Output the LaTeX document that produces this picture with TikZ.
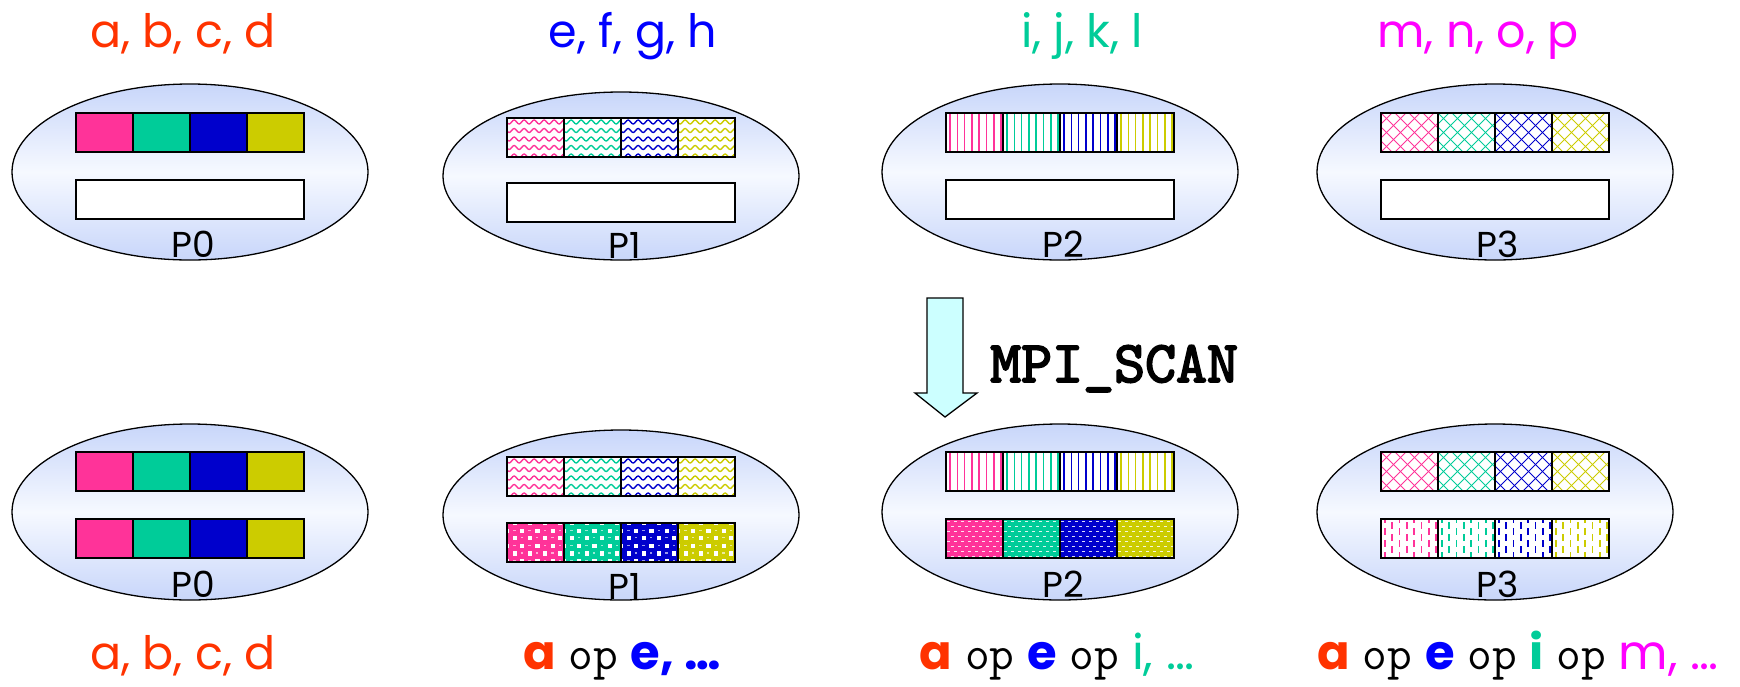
\documentclass[tikz,border=0pt]{standalone}
\usepackage{fontspec}
\setmainfont{Poppins}
\newfontfamily\scanfont{lmmono10-regular.otf}[FakeBold=3]
\usetikzlibrary{shapes.geometric,decorations.pathmorphing}
\definecolor{cpink}{HTML}{FF3399}
\definecolor{cgreen}{HTML}{00CC99}
\definecolor{cblue}{HTML}{0000CC}
\definecolor{cyellow}{HTML}{CCCC00}
\definecolor{tred}{HTML}{FF3300}
\definecolor{tblue}{HTML}{0000FF}
\definecolor{tgreen}{HTML}{00CC99}
\definecolor{tmag}{HTML}{FF00FF}
\definecolor{elledge}{RGB}{200,214,250}
\definecolor{ellmid}{RGB}{246,249,255}
\definecolor{arrowfill}{HTML}{CCFFFF}
\tikzset{
  proc/.style={ellipse, draw=black, line width=1.3pt, minimum width=356pt, minimum height=176pt,
    inner sep=0pt, top color=elledge, bottom color=elledge, middle color=ellmid},
  plabel/.style={anchor=base, font=\fontsize{36}{36}\selectfont, inner sep=0pt},
  toplabel/.style={anchor=base, font=\fontsize{46}{46}\selectfont, inner sep=0pt},
  botlabel/.style={anchor=base, font=\fontsize{48}{48}\selectfont, inner sep=0pt},
  barline/.style={draw=black, line width=2pt},
}
\newcommand\opw{{\ttfamily\fontsize{48}{48}\selectfont op}}
% pattern macros: #1 x, #2 y, #3 colour
\newcommand\patsolid[3]{\fill[#3] (#1,#2) rectangle ++(57,39);}
\newcommand\patwave[3]{\foreach \rr in {0,...,4}{\draw[#3, line width=1.4pt, decorate,
  decoration={snake, amplitude=2pt, segment length=10pt}] (#1-6,#2+4+\rr*8.5) -- ++(72,0);}}
\newcommand\patvline[3]{\foreach \kk in {0,...,7}{\draw[#3, line width=1.6pt] (#1+4+\kk*7.3,#2) -- ++(0,39);}}
\newcommand\patcross[3]{\foreach \kk in {-4,...,5}{\draw[#3, line width=1pt] (#1+\kk*14,#2) -- ++(39,39);
  \draw[#3, line width=1pt] (#1+\kk*14,#2+39) -- ++(39,-39);}}
\newcommand\patsphere[3]{\fill[#3] (#1,#2) rectangle ++(57,39);
  \foreach \ii in {0,...,7}{\foreach \jj in {0,...,5}{
    \pgfmathtruncatemacro\parity{mod(\ii+\jj,2)}
    \ifnum\parity=1 \fill[white] (#1+\ii*7.6-2,#2+\jj*7.6-2) rectangle ++(4.2,4.2);
    \else \fill[white!60!#3] (#1+\ii*7.6-1.5,#2+\jj*7.6-1) rectangle ++(2.5,1.2);\fi}}}
\newcommand\patdash[3]{\fill[#3] (#1,#2) rectangle ++(57,39);
  \foreach \jj in {0,...,7}{\foreach \ii in {0,...,8}{
    \pgfmathsetmacro\off{mod(\jj,2)*3.5}
    \fill[white!85!#3] (#1+\ii*7+\off+1,#2+2+\jj*5) rectangle ++(3.2,1.4);}}}
\newcommand\patvdash[3]{\foreach \ii in {0,...,7}{\foreach \jj in {0,...,3}{
    \pgfmathsetmacro\off{mod(\ii,2)*6}
    \fill[#3] (#1+3+\ii*7.3,#2-3+\jj*12+\off) rectangle ++(1.8,6.5);}}}
\newcommand\cellbar[3]{%
  \foreach \cb/\cc in {0/cpink,1/cgreen,2/cblue,3/cyellow}{%
    \begin{scope}
      \clip (#1+\cb*57,#2) rectangle ++(57,39);
      \fill[white] (#1+\cb*57,#2) rectangle ++(57,39);
      #3{#1+\cb*57}{#2}{\cc}
    \end{scope}
    \draw[barline] (#1+\cb*57,#2) rectangle ++(57,39);}}
\newcommand\emptybar[2]{\draw[barline, fill=white] (#1,#2) rectangle ++(228,39);}
\begin{document}
\begin{tikzpicture}[x=1pt,y=-1pt]
\useasboundingbox (0,0) rectangle (1740,686);
% top row
\node[proc] (e0t) at (190,172) {};
\node[proc, minimum height=168pt] (e1t) at (621,176) {};
\node[proc] (e2t) at (1060,172) {};
\node[proc] (e3t) at (1495,172) {};
\cellbar{76}{113}{\patsolid}
\cellbar{507}{118}{\patwave}
\cellbar{946}{113}{\patvline}
\cellbar{1381}{113}{\patcross}
\emptybar{76}{180}
\emptybar{507}{183}
\emptybar{946}{180}
\emptybar{1381}{180}
\node[plabel] (p0t) at (193,257) {P0};
\node[plabel] (p1t) at (625,258) {P1};
\node[plabel] (p2t) at (1063,257) {P2};
\node[plabel] (p3t) at (1498,257) {P3};
\node[toplabel, text=tred] (t0) at (183,47) {a, b, c, d};
\node[toplabel, text=tblue] (t1) at (633,47) {e, f, g, h};
\node[toplabel, text=tgreen] (t2) at (1082,47) {i, j, k, l};
\node[toplabel, text=tmag] (t3) at (1478,47) {m, n, o, p};
% arrow
\draw[fill=arrowfill, line width=1.3pt, line join=miter] (927,298) -- (963,298) -- (963,393) -- (977,393)
  -- (945,417) -- (915,393) -- (927,393) -- cycle;
\node[anchor=base west, inner sep=0pt, font=\scanfont\fontsize{59}{59}\selectfont] (scan) at (990,382) {MPI\_SCAN};
% bottom row
\node[proc] (e0b) at (190,512) {};
\node[proc, minimum height=170pt] (e1b) at (621,515) {};
\node[proc] (e2b) at (1060,512) {};
\node[proc] (e3b) at (1495,512) {};
\cellbar{76}{452}{\patsolid}
\cellbar{76}{519}{\patsolid}
\cellbar{507}{457}{\patwave}
\cellbar{507}{523}{\patsphere}
\cellbar{946}{452}{\patvline}
\cellbar{946}{519}{\patdash}
\cellbar{1381}{452}{\patcross}
\cellbar{1381}{519}{\patvdash}
\node[plabel] (p0b) at (193,597) {P0};
\node[plabel] (p1b) at (625,599) {P1};
\node[plabel] (p2b) at (1063,597) {P2};
\node[plabel] (p3b) at (1498,597) {P3};
\node[toplabel, text=tred] (b0) at (183,669) {a, b, c, d};
\node[botlabel] (b1) at (622,669) {\textcolor{tred}{\bfseries a} \opw{} \textcolor{tblue}{\bfseries e, …}};
\node[botlabel] (b2) at (1057,669) {\textcolor{tred}{\bfseries a} \opw{} \textcolor{tblue}{\bfseries e} \opw{} \textcolor{tgreen}{i, …}};
\node[botlabel] (b3) at (1518,669) {\textcolor{tred}{\bfseries a} \opw{} \textcolor{tblue}{\bfseries e} \opw{} \textcolor{tgreen}{\bfseries i} \opw{} \textcolor{tmag}{m, …}};
\end{tikzpicture}
\end{document}
